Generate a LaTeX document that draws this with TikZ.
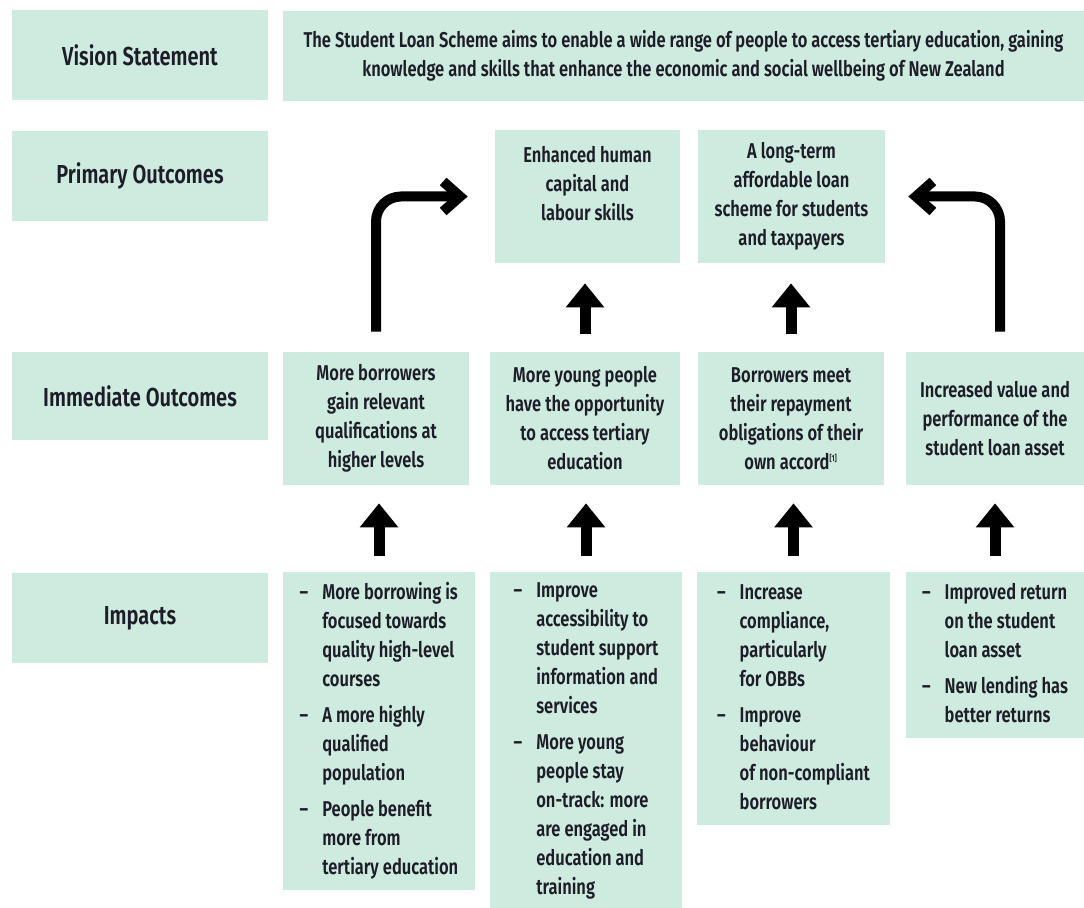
\documentclass[tikz,border=0pt]{standalone}
\usepackage{fontspec}
\setmainfont{Fira Sans}[FakeStretch=0.77, UprightFont=* SemiBold]
\usetikzlibrary{arrows.meta}
\definecolor{boxgreen}{RGB}{205,235,222}
\definecolor{inkdark}{RGB}{30,28,40}
\newcommand{\impact}[1]{\begin{tabular}{@{}l@{\hspace{8pt}}l@{}}#1\end{tabular}}
\begin{document}
\begin{tikzpicture}[x=0.02cm, y=-0.02cm,
    box/.style={fill=boxgreen, inner sep=0pt, align=center, text=inkdark,
        font=\fontsize{12.2}{16.5}\selectfont},
    rowlabel/.style={box, font=\fontsize{14.8}{18}\selectfont,
        minimum width=5.12cm, minimum height=1.8cm},
    bendarrow/.style={line width=0.2cm, rounded corners=0.5cm,
        -{Straight Barb[length=0.34cm, width=0.6cm]}},
    blockarrow/.style={line width=0.22cm, -{Triangle[length=0.48cm, width=0.74cm]}}]
        \useasboundingbox (0,0) rectangle (1084,908);
        % row labels
        \node[rowlabel] (lblV) at (140,55) {Vision Statement};
        \node[rowlabel] (lblP) at (140,176) {Primary Outcomes};
        \node[rowlabel, minimum height=1.76cm] (lblI) at (140,396) {Immediate Outcomes};
        \node[rowlabel] (lblM) at (140,618) {Impacts};
        % vision
        \node[box, minimum width=16.02cm, minimum height=1.8cm] (vis) at (683.5,56)
            {The Student Loan Scheme aims to enable a wide range of people to access tertiary education, gaining\\
             knowledge and skills that enhance the economic and social wellbeing of New Zealand};
        % primary outcomes
        \node[box, minimum width=3.7cm, minimum height=2.66cm] (prim1) at (587.5,196.5)
            {\parbox[c][2.02cm][t]{3.6cm}{\centering Enhanced human\\capital and\\labour skills}};
        \node[box, minimum width=3.74cm, minimum height=2.66cm] (prim2) at (791.5,196.5)
            {A long-term\\affordable loan\\scheme for students\\and taxpayers};
        % immediate outcomes
        \node[box, minimum width=3.72cm, minimum height=2.66cm] (io1) at (376,418.5)
            {More borrowers\\gain relevant\\qualifications at\\higher levels};
        \node[box, minimum width=3.8cm, minimum height=2.66cm] (io2) at (585,418.5)
            {More young people\\have the opportunity\\to access tertiary\\education};
        \node[box, minimum width=3.72cm, minimum height=2.66cm] (io3) at (791,418.5)
            {Borrowers meet\\their repayment\\obligations of their\\own accord\textsuperscript{\tiny[1]}};
        \node[box, minimum width=3.56cm, minimum height=2.66cm] (io4) at (995,418.5)
            {Increased value and\\performance of the\\student loan asset};
        % impacts
        \node[box, minimum width=3.84cm, minimum height=6.36cm] (im1) at (379,731)
            {\impact{\textendash & More borrowing is\\ & focused towards\\ & quality high-level\\ & courses\\[4pt]
                     \textendash & A more highly\\ & qualified\\ & population\\[4pt]
                     \textendash & People benefit\\ & more from\\ & tertiary education}};
        \node[box, minimum width=3.84cm, minimum height=6.72cm] (im2) at (586,740)
            {\impact{\textendash & Improve\\ & accessibility to\\ & student support\\ & information and\\ & services\\[4pt]
                     \textendash & More young\\ & people stay\\ & on-track: more\\ & are engaged in\\ & education and\\ & training}};
        \node[box, minimum width=3.86cm, minimum height=5.06cm] (im3) at (793.5,698.5)
            {\impact{\textendash & Increase\\ & compliance,\\ & particularly\\ & for OBBs\\[4pt]
                     \textendash & Improve\\ & behaviour\\ & of non-compliant\\ & borrowers}};
        \node[box, minimum width=3.56cm, minimum height=3.32cm] (im4) at (995,655)
            {\impact{\textendash & Improved return\\ & on the student\\ & loan asset\\[4pt]
                     \textendash & New lending has\\ & better returns}};
        % arrows
        \draw[bendarrow, shorten <=0.4cm, shorten >=0.54cm] (io1.north) |- (prim1.west);
        \draw[bendarrow, shorten <=0.4cm, shorten >=0.46cm] ([xshift=0.1cm]io4.north) |- (prim2.east);
        \draw[blockarrow, shorten <=0.36cm, shorten >=0.4cm] (io2.north) -- (io2.north |- prim1.south);
        \draw[blockarrow, shorten <=0.36cm, shorten >=0.4cm] (io3.north) -- (io3.north |- prim2.south);
        \foreach \n/\m in {im1/io1, im2/io2, im3/io3, im4/io4}
            \draw[blockarrow, shorten <=0.32cm, shorten >=0.36cm] (\n.north) -- (\n.north |- \m.south);
\end{tikzpicture}
\end{document}
